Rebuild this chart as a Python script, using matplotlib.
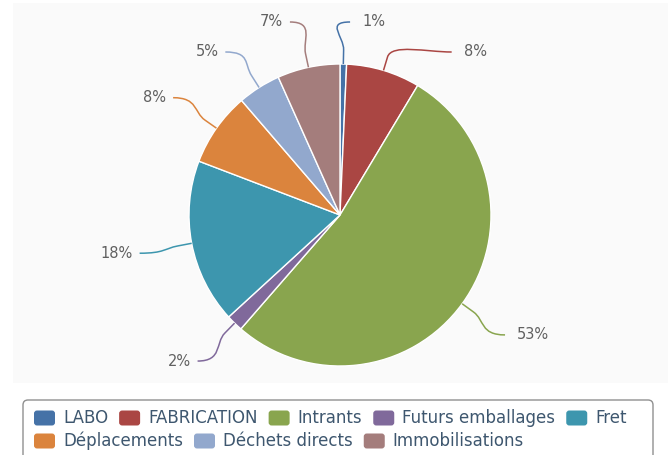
import numpy as np
import matplotlib
matplotlib.use("Agg")
import matplotlib.pyplot as plt
from matplotlib.patches import FancyBboxPatch, Rectangle, PathPatch
from matplotlib.path import Path

categories = ["LABO", "FABRICATION", "Intrants", "Futurs emballages", "Fret",
              "Déplacements", "Déchets directs", "Immobilisations"]
values = [0.7, 7.9, 52.8, 1.8, 17.6, 7.9, 4.6, 6.7]
colors = ["#4572A7", "#AA4643", "#89A54E", "#80699B", "#3D96AE",
          "#DB843D", "#92A8CD", "#A47D7C"]

# layout tweaks for label connectors (pixels, horizontal)
label_nudge = [-56, -11, 0, 0, 0, 0, 8, 16]

W, H = 668, 455
fig = plt.figure(figsize=(W / 100, H / 100), dpi=100)
ax = fig.add_axes([0, 0, 1, 1])

def Y(py):
    return H - py

cx, cy, r = 340, Y(215), 151
ax.pie(values, colors=colors, startangle=90, counterclock=False,
       center=(cx, cy), radius=r, frame=True,
       wedgeprops=dict(edgecolor="white", linewidth=1.0, zorder=2))
ax.set_xlim(0, W)
ax.set_ylim(0, H)
ax.set_aspect("equal")
ax.axis("off")

# plot background panel
ax.add_patch(Rectangle((13, Y(383)), W - 13, 380, facecolor="#fafafa",
                       edgecolor="none", zorder=0))

# data labels (Highcharts-like placement)
total = sum(values)
cum = np.cumsum([0] + values[:-1])
mids = [(c + v / 2) / total * 360 for c, v in zip(cum, values)]
R = r + 53
labels = []
for i, th in enumerate(mids):
    t = np.radians(th)
    labels.append(dict(i=i, th=t, right=np.sin(t) >= 0, y=cy + R * np.cos(t)))

spacing = 30
top = Y(22)
for side in (True, False):
    items = sorted([l for l in labels if l["right"] == side], key=lambda l: -l["y"])
    prev = None
    for l in items:
        yy = min(l["y"], top)
        if prev is not None:
            yy = min(yy, prev - spacing)
        l["y"] = yy
        prev = yy

for l in labels:
    t, i = l["th"], l["i"]
    dy = l["y"] - cy
    dx = np.sqrt(max(R ** 2 - dy ** 2, 0))
    sgn = 1 if l["right"] else -1
    xl = cx + sgn * dx + label_nudge[i]   # connector end next to label
    yl = l["y"]
    ex, ey = cx + r * np.sin(t), cy + r * np.cos(t)
    bx, by = cx + (r + 14) * np.sin(t), cy + (r + 14) * np.cos(t)
    verts = [(xl, yl), (xl - sgn * 25, yl), (2 * bx - ex, 2 * by - ey),
             (bx, by), (ex, ey)]
    codes = [Path.MOVETO, Path.CURVE4, Path.CURVE4, Path.CURVE4, Path.LINETO]
    ax.add_patch(PathPatch(Path(verts, codes), facecolor="none",
                           edgecolor=colors[i], linewidth=1.1, zorder=3))
    pct = "%d%%" % round(values[i] / total * 100)
    tx = xl + 12 if sgn > 0 else xl - 7
    ax.text(tx, yl, pct, ha="left" if sgn > 0 else "right",
            va="center", fontsize=10.5, color="#606060", family="DejaVu Sans")

# legend box
ax.add_patch(FancyBboxPatch((23, Y(470)), 630, 70,
                            boxstyle="round,pad=0,rounding_size=5",
                            facecolor="white", edgecolor="#909090",
                            linewidth=1.0, zorder=1))

fig.canvas.draw()
renderer = fig.canvas.get_renderer()
x0 = 34
x = x0
row_y = [418, 441]
row = 0
sw, sh, sgap, igap = 21, 15, 8, 11
for name, col in zip(categories, colors):
    t = ax.text(0, 0, name, fontsize=12, color="#3E576F", va="center",
                family="DejaVu Sans")
    w = t.get_window_extent(renderer).width
    item_w = sw + sgap + w
    if x + item_w > 650:
        row += 1
        x = x0
    yy = Y(row_y[row])
    ax.add_patch(FancyBboxPatch((x, yy - sh / 2), sw, sh,
                                boxstyle="round,pad=0,rounding_size=3",
                                facecolor=col, edgecolor="none", zorder=2))
    t.set_position((x + sw + sgap, yy))
    x += item_w + igap

fig.savefig("out.png", dpi=100)
